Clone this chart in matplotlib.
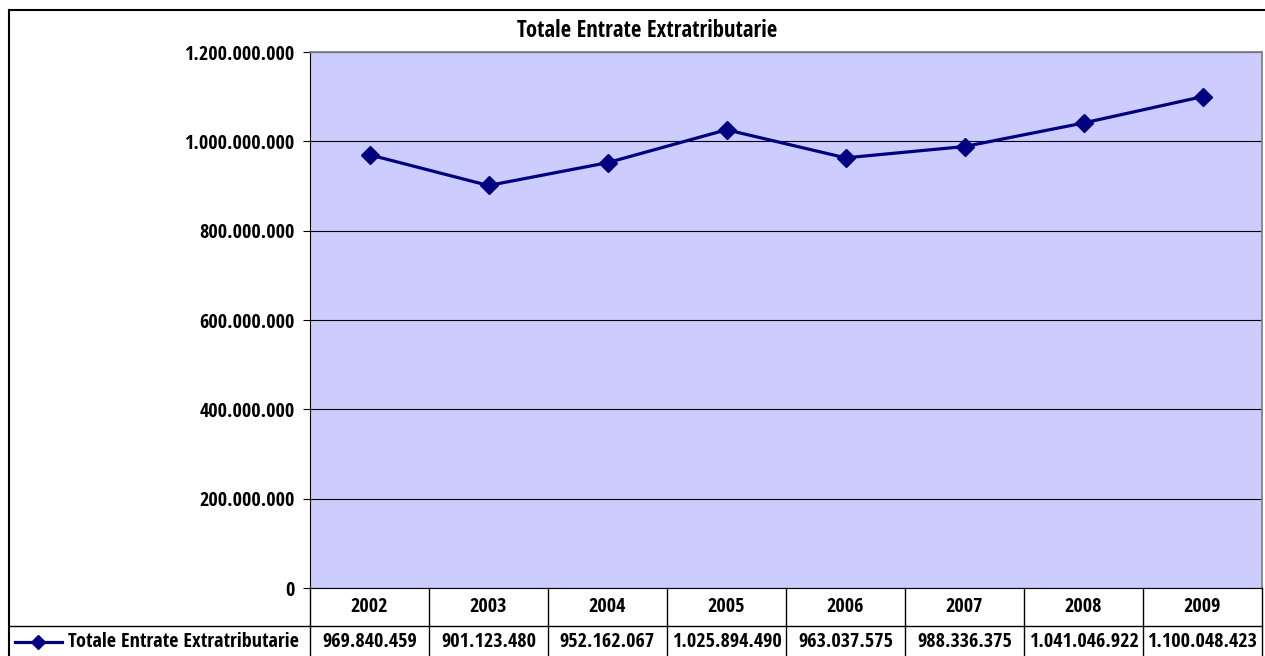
import matplotlib
matplotlib.use("Agg")
import matplotlib.pyplot as plt
from matplotlib.lines import Line2D

years = ["2002", "2003", "2004", "2005", "2006", "2007", "2008", "2009"]
values = [969840459, 901123480, 952162067, 1025894490, 963037575,
          988336375, 1041046922, 1100048423]
series_name = "Totale Entrate Extratributarie"
yticks = [0, 200000000, 400000000, 600000000, 800000000, 1000000000, 1200000000]

W, H = 1265, 656
FS = 14.5
plt.rcParams['font.family'] = ['Open Sans Condensed', 'Roboto Condensed', 'Liberation Sans', 'DejaVu Sans']
plt.rcParams['font.weight'] = 'bold'

fig = plt.figure(figsize=(W / 100, H / 100), dpi=100)

# plot area in pixel coords
left, right, top, bottom = 310, 1262, 52, 588
ax = fig.add_axes([left / W, 1 - bottom / H, (right - left) / W, (bottom - top) / H])
ax.set_facecolor('#CCCCFF')

x = list(range(len(years)))
ax.plot(x, values, color='#000080', lw=2.3, marker='D', ms=9, zorder=3)
ax.set_xlim(-0.5, len(years) - 0.5)
ax.set_ylim(0, 1200000000)
ax.set_yticks(yticks)
ax.set_yticklabels([f"{v:,}".replace(",", ".") for v in yticks], fontsize=FS, fontweight='bold')
ax.set_xticks([])
ax.tick_params(axis='y', direction='out', length=5, width=0.8, pad=6)
ax.grid(axis='y', color='black', lw=0.8)
ax.set_axisbelow(True)
for s in ['top', 'right']:
    ax.spines[s].set_color('#808080')
    ax.spines[s].set_linewidth(1.3)
ax.spines['left'].set_color('black')
ax.spines['bottom'].set_color('black')

def fx(px):
    return px / W

def fy(py):
    return 1 - py / H

# outer border
fig.add_artist(Line2D([fx(9), fx(1266)], [fy(10), fy(10)], color='black', lw=1.5))
fig.add_artist(Line2D([fx(9), fx(9)], [fy(10), fy(660)], color='black', lw=1.5))

fig.text(fx(647), fy(31), series_name, ha='center', va='center', fontsize=16.3, fontweight='bold')

# data table
colw = (right - left) / len(years)
row1_top, row2_top, row2_bot = bottom, 626, 660
fig.add_artist(Line2D([fx(9), fx(right)], [fy(row2_top), fy(row2_top)], color='black', lw=1))
fig.add_artist(Line2D([fx(left), fx(left)], [fy(row1_top), fy(row2_bot)], color='black', lw=1))
for i in range(1, len(years) + 1):
    xx = left + i * colw
    fig.add_artist(Line2D([fx(xx), fx(xx)], [fy(row1_top), fy(row2_bot)], color='black', lw=1))
for i, (yr, v) in enumerate(zip(years, values)):
    cx = left + (i + 0.5) * colw
    fig.text(fx(cx), fy(607), yr, ha='center', va='center', fontsize=FS, fontweight='bold')
    fig.text(fx(cx), fy(642), f"{v:,}".replace(",", "."), ha='center', va='center',
             fontsize=FS, fontweight='bold')

fig.add_artist(Line2D([fx(15), fx(62)], [fy(642), fy(642)], color='#000080', lw=2.3))
fig.add_artist(Line2D([fx(38)], [fy(642)], color='#000080', marker='D', ms=7, lw=0))
fig.text(fx(68), fy(642), series_name, ha='left', va='center', fontsize=FS, fontweight='bold')

fig.savefig("out.png", dpi=100)
